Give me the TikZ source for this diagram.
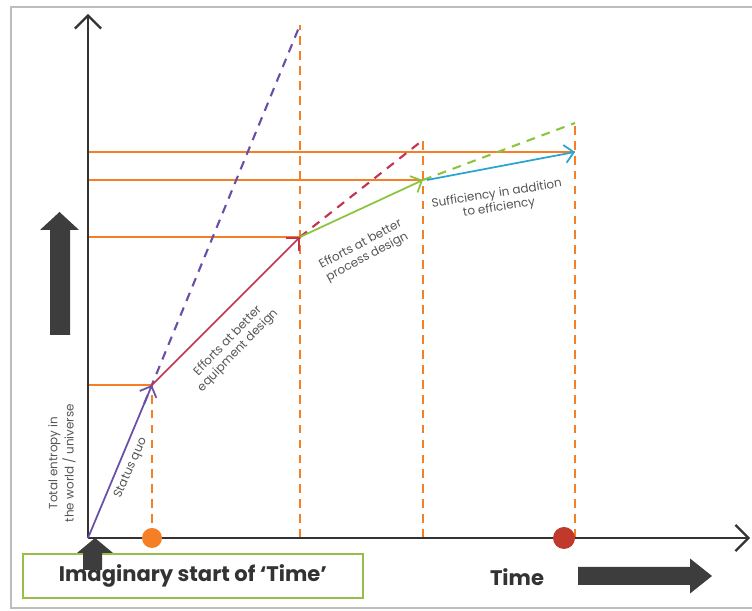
\documentclass[tikz,border=0pt]{standalone}
\usepackage{fontspec}
\setmainfont{Poppins}
\usepackage{tikz}
\usetikzlibrary{arrows.meta,calc}
\definecolor{orng}{HTML}{F47F24}
\definecolor{lila}{HTML}{6A4FA6}
\definecolor{rot}{HTML}{C2334F}
\definecolor{gruen}{HTML}{8CC43F}
\definecolor{blau}{HTML}{2AA5CE}
\definecolor{grau}{HTML}{333333}
\definecolor{dgrau}{HTML}{3D3D3D}
\definecolor{tgrau}{HTML}{555555}
\definecolor{rahmen}{HTML}{BDBDBD}
\definecolor{boxgr}{HTML}{97BE4B}
\definecolor{punkt}{HTML}{C0392B}
\tikzset{
  ax/.style={-{Straight Barb[length=2.6mm,width=5.2mm]},grau,line width=1.3pt},
  vec/.style={-{Straight Barb[length=1.8mm,width=3.6mm]},line width=1pt},
  proj/.style={orng,line width=1.4pt},
  hilf/.style={orng,dash pattern=on 5pt off 3.5pt,line width=1.5pt},
  weiter/.style={dash pattern=on 5pt off 4pt,line width=1.2pt},
  blk/.style={fill=dgrau,draw=none},
  lab/.style={text=tgrau,font=\fontsize{6.8}{8}\selectfont,align=center,inner sep=1pt},
}

\begin{document}
\begin{tikzpicture}
  \useasboundingbox (0,0) rectangle (15.04,12.22);
  % frame
  \draw[rahmen,line width=0.6pt] (15.04,12.08) -- (0.22,12.08) -- (0.22,0.06) -- (15.04,0.06);
  % points
  \coordinate (O) at (1.76,1.46);
  \coordinate (A) at (3.04,4.52);
  \coordinate (B) at (6.00,7.48);
  \coordinate (C) at (8.46,8.62);
  \coordinate (D) at (11.50,9.18);
  \coordinate (Ctop) at (8.46,9.42);
  \coordinate (Dtop) at (11.50,9.76);
  \coordinate (Btop) at (6.00,11.72);
  \coordinate (yend) at (1.76,11.94);
  \coordinate (xend) at (15.00,1.46);
  % orange levels
  \draw[proj] (O|-A) -- (A);
  \draw[proj] (O|-B) -- (B);
  \draw[proj] (O|-C) -- (C);
  \draw[proj] (O|-D) -- (D);
  % dashed verticals
  \draw[hilf] (O-|A) -- (A);
  \draw[hilf] (O-|B) -- (Btop);
  \draw[hilf] (O-|C) -- (Ctop);
  \draw[hilf] (O-|D) -- (Dtop);
  % extrapolations
  \draw[weiter,lila] ($(O)!0.88!(A)$) -- (Btop);
  \draw[weiter,rot] (B) -- (Ctop);
  \draw[weiter,gruen] (C) -- (Dtop);
  % axes
  \draw[ax] (O) -- (yend);
  \draw[ax] (O) -- (xend);
  % steps
  \draw[vec,lila] (O) -- (A);
  \draw[vec,rot] (A) -- (B);
  \draw[vec,gruen] (B) -- (C);
  \draw[vec,blau] ([xshift=0.08cm]C) -- (D);
  % dots on time axis
  \fill[orng] (O-|A) circle (0.2);
  \fill[punkt] (11.28,1.46) circle (0.22);
  % labels
  \node[lab,rotate=66] (lsq) at (2.62,2.86) {Status quo};
  \node[lab,rotate=46] (leq) at (4.66,5.3) {Efforts at better\\equipment design};
  \node[lab,rotate=28] (lpr) at (7.28,7.2) {Efforts at better\\process design};
  \node[lab,rotate=9] (lsu) at (9.96,8.2) {Sufficiency in addition\\to efficiency};
  \node[lab,rotate=90] (ylab) at (1.24,2.96) {Total entropy in\\the world / universe};
  % block arrows
  \fill[blk] (1.0,5.52) -- (1.0,7.62) -- (0.8,7.62) -- (1.19,7.98) -- (1.58,7.62) -- (1.4,7.62) -- (1.4,5.52) -- cycle;
  \fill[blk] (11.56,0.88) -- (13.8,0.88) -- (13.8,1.05) -- (14.24,0.7) -- (13.8,0.35) -- (13.8,0.52) -- (11.56,0.52) -- cycle;
  % start box
  \node[draw=boxgr,line width=1pt,minimum width=6.8cm,minimum height=0.88cm,
        font=\bfseries\fontsize{12}{14}\selectfont,text=grau] (start) at (3.86,0.70) {Imaginary start of ‘Time’};
  \fill[blk] (1.66,0.82) -- (1.66,1.16) -- (1.54,1.16) -- (1.9,1.46) -- (2.26,1.16) -- (2.04,1.16) -- (2.04,0.82) -- cycle;
  \node[font=\bfseries\fontsize{12}{14}\selectfont,text=grau] (time) at (10.34,0.68) {Time};
\end{tikzpicture}
\end{document}
